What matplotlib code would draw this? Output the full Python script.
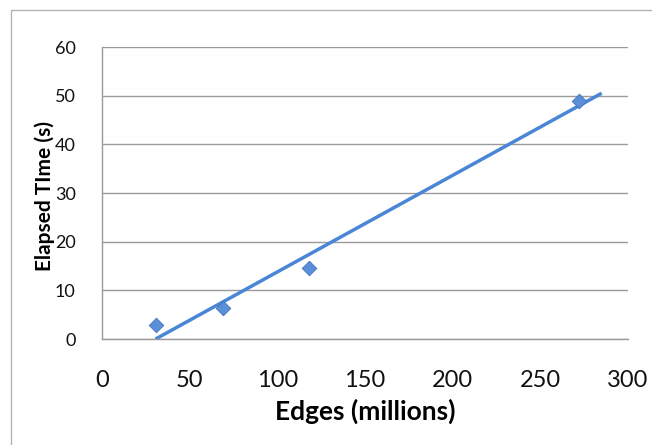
import matplotlib
matplotlib.use("Agg")
import matplotlib.pyplot as plt
from matplotlib.patches import Rectangle
import numpy as np

# Data
edges_millions = [31, 69, 118, 272]
elapsed_s = [2.9, 6.3, 14.5, 49.0]
trend_slope = 0.1985
trend_intercept = -6.07
trend_x_end = 285
x_ticks = [0, 50, 100, 150, 200, 250, 300]
y_ticks = [0, 10, 20, 30, 40, 50, 60]

plt.rcParams['font.family'] = ['Lato', 'DejaVu Sans']

fig = plt.figure(figsize=(6.52, 4.45), dpi=100)
fig.patch.set_facecolor('white')
# outer chart border (only top and left visible)
fig.add_artist(Rectangle((11/652, -0.1), 1.2, 1 - 10/445 + 0.1,
                         transform=fig.transFigure, fill=False,
                         edgecolor='#b3b3b3', linewidth=1.0))

ax = fig.add_axes([102/652, 1 - 339/445, (628 - 102)/652, (339 - 47)/445])
ax.set_xlim(0, 300)
ax.set_ylim(0, 60)
ax.set_xticks(x_ticks)
ax.set_yticks(y_ticks)
ax.yaxis.grid(True, color='#9a9a9a', linewidth=1.0)
ax.set_axisbelow(True)
for s in ['top', 'right']:
    ax.spines[s].set_visible(False)
for s in ['left', 'bottom']:
    ax.spines[s].set_color('#9a9a9a')
    ax.spines[s].set_linewidth(1.0)
ax.tick_params(length=0, labelcolor='#111111')
ax.tick_params(axis='y', labelsize=13, pad=19)
ax.tick_params(axis='x', labelsize=17, pad=22)

# trendline (clipped at y=0 like Excel)
x0 = -trend_intercept / trend_slope
tx = np.array([x0, trend_x_end])
ax.plot(tx, trend_slope * tx + trend_intercept, color='#4a86d6', linewidth=2.5,
        solid_capstyle='butt', zorder=2)
ax.scatter(edges_millions, elapsed_s, marker='D', s=55, color='#5b90d8',
           edgecolor='#3f74c0', linewidth=0.6, zorder=3)

ax.set_xlabel('Edges (millions)', fontsize=19, fontweight='bold', labelpad=6)
ax.set_ylabel('Elapsed TIme (s)', fontsize=15, fontweight='bold')
ax.yaxis.set_label_coords(-0.09, 0.49)

fig.savefig('out.png', dpi=100, facecolor='white')
